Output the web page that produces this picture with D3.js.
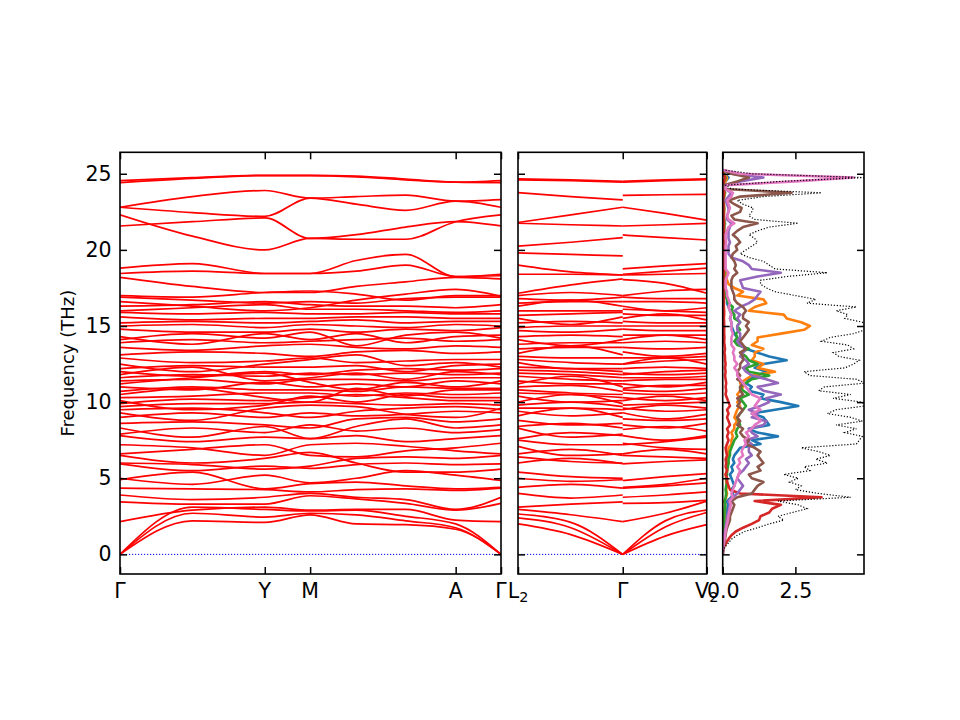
<!DOCTYPE html>
<html>
<head>
<meta charset="utf-8">
<script src="https://cdn.jsdelivr.net/npm/d3@7"></script>
<style>
  html, body { margin: 0; padding: 0; background: #fff; }
  svg { display: block; font-family: "DejaVu Sans", sans-serif; }
</style>
</head>
<body>
<svg id="chart"></svg>
<script>
// path 1: Γ - Y - M - A - Γ, sample positions along the path (0..1)
const path1Ticks = [0, 0.38, 0.499, 0.881, 1.0];
const path1Labels = [["Γ"], ["Y"], ["M"], ["A"], ["Γ"]];
const path1Q = [0, 0.19, 0.38, 0.499, 0.62, 0.75, 0.881, 1.0];

// path 2: L2 - Γ | Γ - V2, two segments
const path2Ticks = [0, 0.555, 1.0];
const path2Labels = [["L", "2"], ["Γ"], ["V", "2"]];
const path2Q = [0, 0.28, 0.555, 0.555, 0.78, 1.0];

// frequencies (THz) at path1Q for each band
const bands1 = [
  [0, 2.2, 2.1, 2.6, 2.0, 1.95, 1.65, 0],
  [0, 2.7, 2.45, 2.7, 2.6, 2.2, 1.75, 0],
  [0, 3.1, 2.95, 2.85, 2.9, 2.5, 2.0, 0],
  [2.15, 2.9, 3.1, 2.9, 2.95, 2.95, 2.25, 2.15],
  [3.45, 3.3, 3.3, 3.85, 3.65, 3.35, 2.9, 3.35],
  [3.9, 3.6, 3.75, 4.0, 3.75, 3.6, 2.95, 3.75],
  [4.35, 4.3, 4.25, 4.1, 4.25, 4.3, 4.2, 4.35],
  [4.9, 5.4, 4.3, 4.65, 4.75, 4.5, 4.3, 4.4],
  [5.0, 4.6, 5.2, 4.7, 5.0, 5.5, 5.2, 4.85],
  [5.95, 5.5, 5.8, 5.65, 5.9, 6.0, 5.9, 5.95],
  [6.0, 5.9, 5.6, 5.8, 6.3, 6.4, 6.3, 6.5],
  [6.5, 6.0, 6.3, 6.7, 6.0, 5.4, 5.4, 5.6],
  [6.6, 6.9, 7.2, 6.5, 6.4, 6.8, 7.0, 7.3],
  [7.2, 7.0, 6.5, 7.2, 7.3, 7.1, 6.8, 6.6],
  [7.8, 7.4, 7.7, 7.6, 7.8, 7.4, 7.6, 7.8],
  [7.9, 8.3, 8.0, 8.5, 8.1, 8.3, 8.0, 8.2],
  [8.3, 7.7, 8.4, 7.6, 8.4, 8.9, 8.3, 8.5],
  [8.6, 8.7, 8.5, 8.3, 8.9, 9.0, 8.7, 8.9],
  [9.0, 9.3, 9.0, 9.3, 9.1, 9.2, 9.4, 9.3],
  [9.3, 8.8, 9.6, 9.8, 9.7, 9.2, 9.0, 9.6],
  [9.5, 9.6, 9.3, 9.0, 9.4, 9.6, 9.7, 9.5],
  [9.7, 9.9, 9.9, 10.0, 9.9, 9.8, 9.9, 9.8],
  [9.9, 10.2, 10.1, 10.3, 10.5, 10.3, 10.1, 10.1],
  [10.1, 9.5, 9.8, 10.4, 10.0, 10.5, 10.3, 10.3],
  [10.3, 10.4, 10.6, 10.6, 10.4, 10.6, 10.5, 10.6],
  [10.5, 10.9, 10.3, 10.0, 10.9, 10.4, 10.8, 10.8],
  [10.7, 11.0, 10.8, 10.8, 10.7, 11.0, 10.9, 10.9],
  [11.0, 10.8, 11.3, 11.0, 11.2, 11.0, 11.4, 11.2],
  [11.2, 11.6, 11.9, 11.3, 10.8, 11.3, 11.0, 11.4],
  [11.4, 11.5, 11.2, 11.5, 11.5, 11.4, 11.6, 11.6],
  [11.6, 11.8, 11.7, 11.9, 11.8, 11.9, 11.8, 11.9],
  [11.8, 12.3, 11.4, 11.6, 11.9, 11.5, 12.0, 11.8],
  [12.0, 11.7, 12.0, 11.8, 12.1, 12.2, 12.1, 12.2],
  [12.2, 12.4, 12.3, 12.3, 12.4, 12.0, 12.4, 12.5],
  [12.5, 12.0, 12.5, 12.8, 13.1, 12.4, 12.6, 12.3],
  [12.9, 12.6, 12.7, 12.9, 12.6, 12.7, 12.8, 12.8],
  [13.1, 13.3, 13.2, 13.0, 13.3, 13.4, 13.2, 13.3],
  [13.6, 13.4, 13.7, 13.8, 13.6, 13.5, 13.7, 13.6],
  [13.9, 14.1, 13.9, 14.0, 14.1, 14.2, 14.0, 14.1],
  [14.1, 14.5, 14.2, 14.6, 13.7, 14.4, 14.6, 14.2],
  [14.3, 13.8, 14.5, 14.1, 14.5, 13.9, 14.3, 14.4],
  [14.8, 14.6, 14.6, 14.8, 14.6, 14.8, 14.7, 14.9],
  [15.0, 15.1, 14.9, 15.1, 15.0, 14.9, 15.1, 15.0],
  [15.2, 15.3, 15.2, 15.3, 15.4, 15.2, 15.3, 15.3],
  [15.6, 15.4, 15.5, 15.5, 15.6, 15.6, 15.5, 15.5],
  [15.9, 15.8, 15.9, 15.8, 15.8, 15.9, 15.8, 15.8],
  [16.0, 16.2, 16.4, 16.1, 16.1, 16.0, 15.9, 16.0],
  [16.3, 16.4, 16.6, 16.4, 16.3, 16.3, 16.2, 16.4],
  [16.6, 16.3, 16.0, 16.2, 16.7, 17.1, 17.4, 16.95],
  [16.9, 16.7, 16.5, 16.6, 16.5, 16.8, 16.9, 16.9],
  [17.0, 16.9, 17.2, 17.3, 17.1, 16.7, 17.0, 17.0],
  [18.2, 17.6, 17.2, 17.2, 17.6, 17.9, 18.2, 18.1],
  [18.45, 18.6, 18.45, 18.45, 18.6, 19.0, 18.25, 18.3],
  [18.8, 19.1, 18.45, 18.45, 19.3, 19.7, 18.25, 18.4],
  [21.57, 21.85, 22.1, 20.75, 21.0, 21.5, 21.85, 21.57],
  [22.3, 20.9, 20.0, 20.75, 20.7, 20.7, 21.85, 22.3],
  [22.8, 22.45, 22.2, 23.4, 23.0, 22.6, 23.2, 22.8],
  [22.8, 23.5, 23.9, 23.4, 23.5, 23.6, 23.2, 23.3],
  [24.42, 24.7, 24.88, 24.88, 24.8, 24.6, 24.45, 24.42],
  [24.55, 24.75, 24.9, 24.9, 24.85, 24.65, 24.45, 24.55]
];

// frequencies (THz) at path2Q: L2, mid, Γ | Γ, mid, V2
const bands2 = [
  [2.0, 1.3, 0, 0, 1.2, 1.95],
  [2.4, 1.75, 0, 0, 1.8, 2.75],
  [2.65, 2.1, 0, 0, 2.2, 2.9],
  [2.95, 2.6, 2.15, 2.15, 2.7, 3.5],
  [3.1, 3.3, 3.45, 3.35, 3.4, 3.55],
  [4.0, 3.7, 3.9, 3.75, 3.9, 4.1],
  [4.4, 4.6, 4.35, 4.35, 4.5, 4.7],
  [5.0, 4.8, 4.9, 4.4, 4.6, 5.0],
  [5.4, 5.1, 5.0, 4.85, 5.1, 5.3],
  [6.0, 6.3, 5.95, 5.95, 6.1, 6.2],
  [6.4, 6.1, 6.0, 6.5, 6.4, 6.3],
  [6.6, 6.9, 6.5, 6.6, 6.9, 6.6],
  [7.1, 6.5, 6.6, 7.3, 7.0, 6.9],
  [7.5, 7.2, 7.2, 7.2, 7.4, 7.7],
  [7.6, 8.0, 7.8, 7.8, 7.5, 7.8],
  [8.3, 7.7, 7.9, 8.2, 8.4, 8.1],
  [8.4, 8.6, 8.3, 8.5, 8.3, 8.6],
  [8.8, 8.5, 8.6, 8.9, 8.8, 8.9],
  [9.1, 9.6, 9.0, 9.3, 8.9, 9.2],
  [9.4, 9.1, 9.3, 9.6, 9.4, 9.5],
  [9.6, 9.6, 9.5, 9.5, 9.8, 9.6],
  [9.8, 10.0, 9.7, 9.8, 9.9, 10.0],
  [10.0, 10.5, 9.9, 10.1, 10.4, 10.1],
  [10.4, 10.0, 10.1, 10.3, 10.1, 10.3],
  [10.6, 10.5, 10.3, 10.6, 10.5, 10.6],
  [10.8, 10.6, 10.5, 10.8, 10.7, 10.9],
  [11.0, 11.1, 10.7, 10.9, 11.1, 11.1],
  [11.2, 11.7, 11.0, 11.2, 11.0, 11.3],
  [11.4, 11.2, 11.2, 11.4, 11.5, 11.5],
  [11.7, 11.5, 11.4, 11.6, 11.6, 11.7],
  [11.9, 11.8, 11.6, 11.9, 11.8, 11.9],
  [12.1, 12.0, 11.8, 11.8, 12.0, 12.1],
  [12.3, 12.2, 12.0, 12.2, 12.3, 12.2],
  [12.6, 12.2, 12.2, 12.5, 12.9, 12.5],
  [12.8, 12.6, 12.5, 12.5, 12.7, 12.8],
  [13.0, 12.9, 12.9, 12.9, 12.9, 13.0],
  [13.2, 13.7, 13.1, 13.3, 13.0, 13.2],
  [13.5, 13.6, 13.6, 13.6, 13.5, 13.6],
  [13.8, 13.9, 13.9, 13.9, 14.0, 13.9],
  [14.1, 13.7, 14.1, 14.1, 14.4, 14.1],
  [14.3, 14.4, 14.3, 14.4, 14.4, 14.4],
  [14.7, 14.6, 14.8, 14.8, 14.7, 14.7],
  [14.9, 15.0, 15.0, 15.0, 15.0, 15.0],
  [15.2, 15.3, 15.2, 15.3, 15.2, 15.2],
  [15.5, 15.1, 15.6, 15.5, 15.8, 15.4],
  [15.7, 15.8, 15.9, 15.8, 15.7, 15.7],
  [16.0, 16.0, 16.0, 16.1, 16.0, 15.9],
  [16.3, 16.7, 16.3, 16.3, 16.0, 16.2],
  [16.5, 16.6, 16.6, 16.6, 16.6, 16.5],
  [16.8, 16.7, 16.9, 16.9, 16.8, 16.8],
  [17.15, 17.7, 18.1, 18.05, 17.8, 17.15],
  [17.0, 17.2, 17.0, 17.0, 17.3, 17.4],
  [18.4, 18.4, 18.35, 18.35, 18.4, 18.45],
  [19.0, 18.55, 18.35, 18.4, 18.6, 18.8],
  [19.8, 19.7, 19.6, 18.75, 18.95, 19.1],
  [20.25, 20.5, 20.8, 20.98, 20.8, 20.65],
  [21.75, 21.65, 21.57, 21.57, 21.65, 21.74],
  [21.8, 22.3, 22.8, 22.8, 22.4, 21.96],
  [23.76, 23.5, 23.28, 23.58, 23.62, 23.65],
  [24.6, 24.55, 24.45, 24.45, 24.55, 24.62],
  [24.66, 24.6, 24.5, 24.5, 24.6, 24.66]
];

// DOS: frequency grid start/step (THz), values in states/THz
const dosStart = 0, dosStep = 0.25;
const dosTotal = [0,0.02,0.08,0.2, 0.3,0.5,0.75,1.2, 1.6,2.1,1.9,2.4, 2.9,2.6,1.9,4.4,
  3.3,2.5,2.7,2.3, 2.6,2.1,3.0,2.8, 3.6,3.2,3.7,3.3, 2.7,4.6,4.7,4.8,
  4.2,4.6,3.9,4.8, 4.4,3.6,3.9,4.9, 4.8,3.8,4.4,3.3, 3.5,4.9,4.6,3.0,
  2.8,4.2,4.5,4.7, 4.0,3.8,4.5,4.3, 3.4,3.7,4.5,4.9, 4.9,4.8,4.2,4.3,
  3.9,4.6,2.9,3.2, 2.5,1.8,1.5,1.3, 1.3,2.2,3.6,1.8, 1.6,1.4,0.9,0.6,
  0.8,1.0,1.2,1.1, 0.9,1.2,1.6,2.6, 1.1,0.9,1.0,1.05, 0.7,0.5,1.4,3.4,
  0.3,0.1,2.0,4.85, 1.0,0.05];
const dosBlue = [0,0.01,0.02,0.03, 0.04,0.05,0.06,0.08, 0.1,0.12,0.12,0.15, 0.15,0.18,0.15,0.3,
  0.35,0.3,0.4,0.35, 0.3,0.25,0.35,0.3, 0.4,0.35,0.4,0.5, 0.6,1.3,1.0,1.9,
  1.2,0.9,1.6,1.5, 1.4,1.0,1.8,2.6, 2.0,1.3,1.4,0.9, 1.0,0.8,0.9,1.2,
  1.5,1.1,1.4,2.2, 1.6,1.2,0.8,0.6, 0.5,0.5,0.4,0.35, 0.3,0.3,0.25,0.3,
  0.25,0.2,0.15,0.15, 0.1,0.1,0.1,0.08, 0.08,0.1,0.12,0.08, 0.06,0.05,0.05,0.05,
  0.05,0.05,0.05,0.05, 0.05,0.05,0.06,0.08, 0.05,0.04,0.04,0.05, 0.04,0.03,0.05,0.08,
  0.03,0.02,0.1,0.2, 0.05,0.01];
const dosOrange = [0,0.01,0.01,0.02, 0.02,0.03,0.04,0.05, 0.05,0.06,0.06,0.07, 0.08,0.08,0.06,0.12,
  0.15,0.12,0.15,0.12, 0.12,0.1,0.15,0.15, 0.2,0.18,0.2,0.2, 0.2,0.3,0.3,0.35,
  0.3,0.4,0.4,0.5, 0.4,0.45,0.5,0.6, 0.5,0.6,0.5,0.6, 0.7,0.6,0.8,1.0,
  1.8,1.2,1.4,1.0, 1.1,1.1,1.4,1.0, 1.2,1.2,2.0,2.8, 3.0,2.7,2.2,2.1,
  0.9,1.1,1.5,1.4, 0.5,0.7,0.4,0.2, 0.15,0.1,0.1,0.08, 0.06,0.05,0.05,0.05,
  0.05,0.05,0.05,0.05, 0.05,0.05,0.05,0.06, 0.05,0.04,0.05,0.05, 0.04,0.03,0.05,0.08,
  0.02,0.02,0.1,0.15, 0.04,0.01];
const dosGreen = [0,0.01,0.01,0.02, 0.02,0.03,0.03,0.04, 0.05,0.05,0.06,0.06, 0.07,0.08,0.07,0.1,
  0.12,0.1,0.12,0.15, 0.12,0.15,0.15,0.18, 0.2,0.2,0.25,0.25, 0.3,0.35,0.4,0.5,
  0.45,0.5,0.6,0.55, 0.5,0.6,0.7,0.8, 0.7,0.6,0.9,0.7, 0.6,0.8,1.0,1.6,
  0.9,0.8,1.2,0.9, 0.8,0.6,0.9,0.5, 0.4,0.5,0.45,0.6, 0.5,0.6,0.4,0.4,
  0.3,0.35,0.2,0.15, 0.1,0.08,0.06,0.05, 0.05,0.05,0.06,0.05, 0.04,0.04,0.04,0.04,
  0.04,0.04,0.04,0.04, 0.04,0.04,0.04,0.05, 0.04,0.03,0.04,0.04, 0.03,0.03,0.04,0.06,
  0.02,0.02,0.05,0.1, 0.03,0.01];
const dosRed = [0,0.01,0.05,0.12, 0.2,0.3,0.45,0.7, 1.0,1.25,1.3,1.6, 1.7,2.0,1.1,3.4,
  0.6,0.25,0.2,0.15, 0.15,0.1,0.15,0.1, 0.12,0.1,0.15,0.12, 0.1,0.15,0.2,0.15,
  0.2,0.15,0.25,0.2, 0.15,0.2,0.15,0.25, 0.2,0.15,0.1,0.12, 0.1,0.12,0.1,0.08,
  0.1,0.08,0.1,0.08, 0.08,0.06,0.08,0.06, 0.05,0.06,0.05,0.05, 0.05,0.05,0.04,0.05,
  0.05,0.04,0.04,0.04, 0.04,0.03,0.03,0.03, 0.03,0.03,0.04,0.03, 0.03,0.03,0.03,0.03,
  0.03,0.03,0.03,0.03, 0.03,0.03,0.03,0.04, 0.03,0.03,0.03,0.03, 0.03,0.02,0.03,0.05,
  0.02,0.02,0.04,0.08, 0.02,0.01];
const dosPurple = [0,0.01,0.02,0.03, 0.04,0.05,0.07,0.1, 0.12,0.15,0.15,0.2, 0.22,0.25,0.2,0.35,
  0.5,0.6,0.7,0.6, 0.5,0.55,0.7,0.8, 0.9,0.8,1.0,0.9, 0.9,1.0,0.8,1.2,
  1.0,0.9,1.4,1.5, 1.0,1.2,0.9,1.3, 1.6,1.5,2.0,1.4, 1.2,1.9,1.5,1.0,
  0.8,0.7,0.9,0.8, 0.6,0.7,0.8,0.6, 0.5,0.6,0.6,0.5, 0.5,0.6,0.5,0.6,
  0.4,0.6,0.9,1.1, 1.2,1.3,0.7,0.65, 0.6,1.2,2.0,1.0, 0.9,0.7,0.3,0.2,
  0.2,0.2,0.25,0.2, 0.2,0.2,0.25,0.3, 0.15,0.15,0.2,0.2, 0.15,0.1,0.2,0.3,
  0.08,0.05,0.6,1.4, 0.3,0.02];
const dosBrown = [0,0.01,0.03,0.05, 0.08,0.1,0.12,0.15, 0.2,0.25,0.25,0.3, 0.35,0.4,0.3,0.5,
  1.0,1.1,1.2,1.4, 1.0,0.9,1.3,1.2, 1.4,1.3,1.2,1.3, 1.1,0.8,0.9,0.7,
  0.6,0.7,0.5,0.6, 0.5,0.6,0.7,0.5, 0.6,0.5,0.7,0.6, 0.6,0.7,0.5,0.6,
  0.5,0.6,0.6,0.7, 0.7,0.6,0.8,0.7, 0.6,0.7,0.8,0.9, 0.8,0.9,0.7,0.7,
  0.8,0.7,0.5,0.4, 0.4,0.35,0.3,0.3, 0.3,0.35,0.5,0.4, 0.45,0.4,0.3,0.35,
  0.5,0.45,0.6,0.5, 0.35,0.5,0.7,1.2, 0.4,0.3,0.6,0.65, 0.4,0.2,0.6,2.37,
  0.1,0.05,0.5,0.9, 0.3,0.02];
const dosPink = [0,0.01,0.02,0.04, 0.06,0.08,0.1,0.12, 0.15,0.18,0.2,0.22, 0.25,0.28,0.25,0.35,
  0.3,0.35,0.4,0.45, 0.5,0.55,0.6,0.5, 0.6,0.55,0.7,0.65, 0.7,0.8,0.75,0.9,
  0.8,1.0,1.1,1.3, 1.2,1.0,1.3,1.1, 1.2,1.3,1.0,0.9, 0.8,0.7,0.6,0.5,
  0.5,0.4,0.5,0.4, 0.4,0.35,0.4,0.3, 0.3,0.3,0.35,0.3, 0.3,0.3,0.25,0.3,
  0.25,0.2,0.25,0.2, 0.15,0.15,0.1,0.1, 0.1,0.15,0.2,0.1, 0.1,0.1,0.1,0.1,
  0.1,0.1,0.12,0.1, 0.1,0.15,0.2,0.4, 0.2,0.15,0.2,0.25, 0.2,0.15,0.3,0.35,
  0.1,0.1,2.5,4.5, 0.6,0.02];
const dosSeries = [dosBlue, dosOrange, dosGreen, dosRed, dosPurple, dosBrown, dosPink];
const dosColors = ["#1f77b4", "#ff7f0e", "#2ca02c", "#d62728", "#9467bd", "#8c564b", "#e377c2"];

const yTicks = [0, 5, 10, 15, 20, 25];
const dosTicks = [0, 2.5];

const width = 960, height = 720;
const plotTop = 152.3, plotBottom = 574;
const panels = [
  {x0: 120, x1: 501},
  {x0: 518, x1: 706.7},
  {x0: 722.7, x1: 864}
];

const svg = d3.select("#chart")
    .attr("width", width)
    .attr("height", height)
    .attr("viewBox", [0, 0, width, height]);

const y = d3.scaleLinear([-1.29, 26.41], [plotBottom, plotTop]);
const x1 = d3.scaleLinear([0, 1], [panels[0].x0, panels[0].x1]);
const x2 = d3.scaleLinear([0, 1], [panels[1].x0, panels[1].x1]);
const x3 = d3.scaleLinear([0, 4.86], [panels[2].x0, panels[2].x1]);

const fontSize = 20.5;
const tickLen = 7;

panels.forEach((p, i) => {
  svg.append("clipPath").attr("id", "clip" + i)
    .append("rect")
      .attr("x", p.x0).attr("y", plotTop)
      .attr("width", p.x1 - p.x0).attr("height", plotBottom - plotTop);
});

function drawBands(xs, qs, bands, segments, clipId) {
  const g = svg.append("g").attr("clip-path", `url(#${clipId})`);
  // zero line
  g.append("line")
      .attr("x1", xs(0)).attr("x2", xs(1))
      .attr("y1", y(0)).attr("y2", y(0))
      .attr("stroke", "blue")
      .attr("stroke-width", 1)
      .attr("stroke-dasharray", "1.2,1.8");
  const line = d3.line()
      .curve(d3.curveMonotoneX)
      .x(d => xs(d[0]))
      .y(d => y(d[1]));
  bands.forEach(b => {
    segments.forEach(seg => {
      g.append("path")
          .attr("fill", "none")
          .attr("stroke", "red")
          .attr("stroke-width", 1.7)
          .attr("d", line(seg.map(i => [qs[i], b[i]])));
    });
  });
}

drawBands(x1, path1Q, bands1, [d3.range(path1Q.length)], "clip0");
drawBands(x2, path2Q, bands2, [[0, 1, 2], [3, 4, 5]], "clip1");

// DOS
const dosG = svg.append("g").attr("clip-path", "url(#clip2)");
const dosLine = d3.line()
    .x(d => x3(d))
    .y((d, i) => y(dosStart + i * dosStep));
dosSeries.forEach((s, k) => {
  dosG.append("path")
      .attr("fill", "none")
      .attr("stroke", dosColors[k])
      .attr("stroke-width", 2.6)
      .attr("stroke-linejoin", "round")
      .attr("d", dosLine(s));
});
dosG.append("path")
    .attr("fill", "none")
    .attr("stroke", "black")
    .attr("stroke-width", 1.2)
    .attr("stroke-dasharray", "1.2,1.8")
    .attr("d", dosLine(dosTotal));

// axes: inward ticks on every side
function styleAxis(g) {
  g.select(".domain").remove();
  g.selectAll(".tick line").attr("stroke", "black").attr("stroke-width", 1.5);
  g.selectAll(".tick text").attr("font-size", fontSize).attr("fill", "black")
      .attr("font-family", "DejaVu Sans");
}

panels.forEach((p, i) => {
  svg.append("g")
      .attr("transform", `translate(${p.x0},0)`)
      .call(d3.axisLeft(y).tickValues(yTicks).tickSize(-tickLen).tickPadding(8.5)
        .tickFormat(i === 0 ? d3.format("d") : ""))
      .call(styleAxis);
  svg.append("g")
      .attr("transform", `translate(${p.x1},0)`)
      .call(d3.axisRight(y).tickValues(yTicks).tickSize(-tickLen).tickFormat(""))
      .call(styleAxis);
});

[[x1, path1Ticks], [x2, path2Ticks]].forEach(([xs, ticks]) => {
  svg.append("g")
      .attr("transform", `translate(0,${plotBottom})`)
      .call(d3.axisBottom(xs).tickValues(ticks).tickSize(-tickLen).tickFormat(""))
      .call(styleAxis);
  svg.append("g")
      .attr("transform", `translate(0,${plotTop})`)
      .call(d3.axisTop(xs).tickValues(ticks).tickSize(-tickLen).tickFormat(""))
      .call(styleAxis);
});

svg.append("g")
    .attr("transform", `translate(0,${plotBottom})`)
    .call(d3.axisBottom(x3).tickValues(dosTicks).tickSize(-tickLen).tickPadding(9.8)
      .tickFormat(d3.format(".1f")))
    .call(styleAxis);
svg.append("g")
    .attr("transform", `translate(0,${plotTop})`)
    .call(d3.axisTop(x3).tickValues(dosTicks).tickSize(-tickLen).tickFormat(""))
    .call(styleAxis);

// q-point labels, with subscripts
function qLabels(xs, ticks, labels) {
  const t = svg.append("g")
    .selectAll("text")
    .data(ticks)
    .join("text")
      .attr("x", d => xs(d))
      .attr("y", plotBottom + 24.3)
      .attr("text-anchor", "middle")
      .attr("font-size", fontSize)
      .attr("fill", "black");
  t.each(function(d, i) {
    const el = d3.select(this);
    el.append("tspan").text(labels[i][0]);
    if (labels[i][1]) el.append("tspan")
        .attr("dy", 3.6)
        .attr("font-size", fontSize * 0.7)
        .text(labels[i][1]);
  });
}
qLabels(x1, path1Ticks, path1Labels);
qLabels(x2, path2Ticks, path2Labels);

panels.forEach(p => {
  svg.append("rect")
      .attr("x", p.x0).attr("y", plotTop)
      .attr("width", p.x1 - p.x0).attr("height", plotBottom - plotTop)
      .attr("fill", "none")
      .attr("stroke", "black")
      .attr("stroke-width", 1.6);
});

svg.append("text")
    .attr("transform", `translate(73.5,${(plotTop + plotBottom) / 2}) rotate(-90)`)
    .attr("text-anchor", "middle")
    .attr("font-size", 18)
    .text("Frequency (THz)");
</script>
</body>
</html>
